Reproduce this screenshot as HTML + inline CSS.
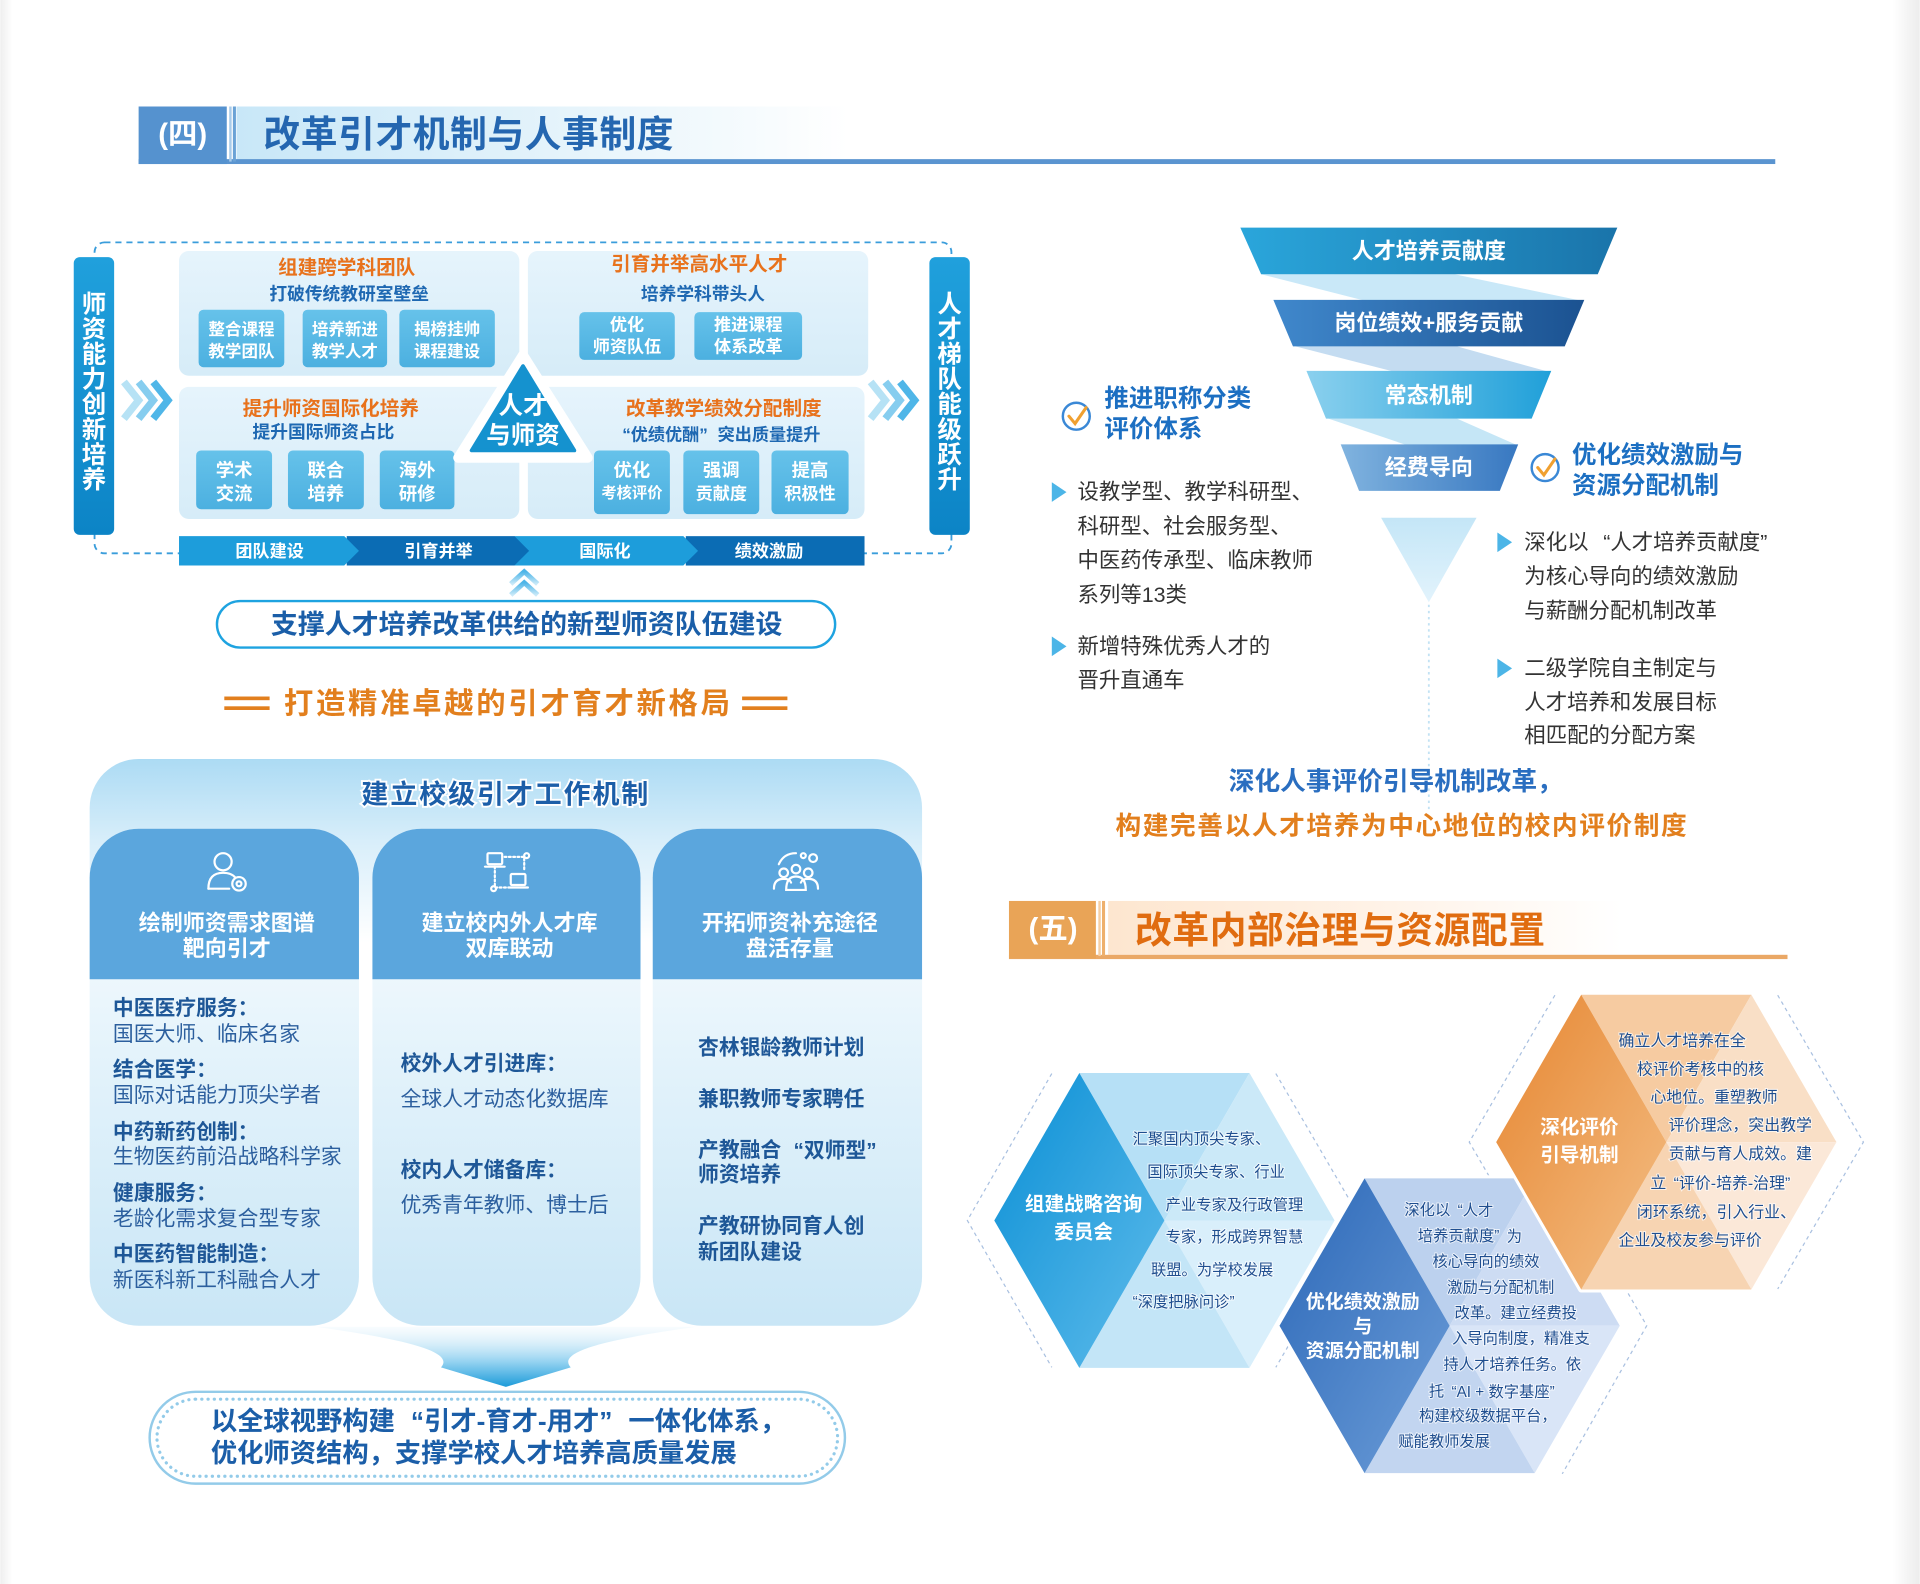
<!DOCTYPE html>
<html><head><meta charset="utf-8">
<style>html,body{margin:0;padding:0;background:#fff;}svg{display:block;}</style>
</head><body>
<svg width="1920" height="1584" viewBox="0 0 1568 1294" xmlns="http://www.w3.org/2000/svg" font-family="'Liberation Sans','Noto Sans CJK SC',sans-serif">
<defs>
<linearGradient id="gH4" x1="0" x2="1" y1="0" y2="0"><stop offset="0" stop-color="#c8e7f8"/><stop offset="0.55" stop-color="#e6f4fb"/><stop offset="1" stop-color="#ffffff"/></linearGradient>
<linearGradient id="gH5" x1="0" x2="1" y1="0" y2="0"><stop offset="0" stop-color="#fde6cf"/><stop offset="0.55" stop-color="#fff3e8"/><stop offset="1" stop-color="#ffffff"/></linearGradient>
<linearGradient id="gBar" x1="0" x2="0" y1="0" y2="1"><stop offset="0" stop-color="#20a0dc"/><stop offset="1" stop-color="#0c84c6"/></linearGradient>
<linearGradient id="gPanel" x1="0" x2="0" y1="0" y2="1"><stop offset="0" stop-color="#e6f4fc"/><stop offset="1" stop-color="#d6ecf8"/></linearGradient>
<linearGradient id="gBox" x1="0" x2="0" y1="0" y2="1"><stop offset="0" stop-color="#66c2ea"/><stop offset="1" stop-color="#4cb0e0"/></linearGradient>
<linearGradient id="gTop" x1="0" x2="0" y1="0" y2="1"><stop offset="0" stop-color="#acdbf4"/><stop offset="0.45" stop-color="#d8eefa"/><stop offset="1" stop-color="#ffffff"/></linearGradient>
<linearGradient id="gBody" x1="0" x2="0" y1="0" y2="1"><stop offset="0" stop-color="#ffffff"/><stop offset="0.45" stop-color="#e4f3fb"/><stop offset="1" stop-color="#c9e6f6"/></linearGradient>
<linearGradient id="gArrow" x1="0" x2="0" y1="0" y2="1"><stop offset="0" stop-color="#e8f5fc" stop-opacity="0.3"/><stop offset="0.6" stop-color="#8fd0f0"/><stop offset="1" stop-color="#1d9bd9"/></linearGradient>
<linearGradient id="gF1" x1="0" x2="1" y1="0" y2="0"><stop offset="0" stop-color="#2aa6db"/><stop offset="1" stop-color="#1a74aa"/></linearGradient>
<linearGradient id="gF2" x1="0" x2="1" y1="0" y2="0"><stop offset="0" stop-color="#4088cc"/><stop offset="1" stop-color="#1b5291"/></linearGradient>
<linearGradient id="gF3" x1="0" x2="1" y1="0" y2="0"><stop offset="0" stop-color="#8ad0ee"/><stop offset="1" stop-color="#20a0d9"/></linearGradient>
<linearGradient id="gF4" x1="0" x2="1" y1="0" y2="0"><stop offset="0" stop-color="#80b3df"/><stop offset="1" stop-color="#3878c1"/></linearGradient>
<linearGradient id="gTri" x1="0" x2="0" y1="0" y2="1"><stop offset="0" stop-color="#c4e6f7"/><stop offset="1" stop-color="#e2f3fc"/></linearGradient>
<linearGradient id="gK1" x1="0" x2="1" y1="0" y2="1"><stop offset="0" stop-color="#0a8fd5"/><stop offset="1" stop-color="#5fbceb"/></linearGradient>
<linearGradient id="gK2" x1="0" x2="1" y1="0" y2="1"><stop offset="0" stop-color="#2c68b8"/><stop offset="1" stop-color="#6c9dd8"/></linearGradient>
<linearGradient id="gK3" x1="0" x2="1" y1="0" y2="1"><stop offset="0" stop-color="#e68631"/><stop offset="1" stop-color="#f4bf86"/></linearGradient>
<linearGradient id="gEdgeR" x1="0" x2="1" y1="0" y2="0"><stop offset="0" stop-color="#ffffff"/><stop offset="1" stop-color="#ececec"/></linearGradient>
<linearGradient id="gEdgeL" x1="0" x2="1" y1="0" y2="0"><stop offset="0" stop-color="#efefef"/><stop offset="1" stop-color="#ffffff"/></linearGradient>
<linearGradient id="gUp" x1="0" x2="0" y1="0" y2="1"><stop offset="0" stop-color="#4db5e8"/><stop offset="1" stop-color="#c9e9f8"/></linearGradient>
</defs>

<!-- background -->
<rect x="0" y="0" width="1568" height="1294" fill="#ffffff"/>
<rect x="0" y="0" width="10" height="1294" fill="url(#gEdgeL)"/>
<rect x="1546" y="0" width="22" height="1294" fill="url(#gEdgeR)"/>

<!-- ===== Header 四 ===== -->
<rect x="193" y="87" width="500" height="44" fill="url(#gH4)"/>
<rect x="113" y="130" width="1337" height="4" fill="#5a94d0"/>
<rect x="113" y="87" width="72" height="47" fill="#5592cf"/>
<rect x="187" y="87" width="2" height="45" fill="#a7cbea"/>
<rect x="190" y="87" width="2.5" height="45" fill="#6aa2d6"/>
<text x="149" y="110" dominant-baseline="central" text-anchor="middle" font-size="24" font-weight="700" fill="#fff">(四)</text>
<text x="215" y="110" dominant-baseline="central" font-size="30" font-weight="700" fill="#2466b0" letter-spacing="0.5">改革引才机制与人事制度</text>

<!-- ===== Diagram 1 ===== -->
<rect x="77" y="198" width="700" height="254" rx="8" fill="none" stroke="#3a9ddb" stroke-width="1.5" stroke-dasharray="5 4"/>
<rect x="146" y="205" width="278" height="102" rx="8" fill="url(#gPanel)"/>
<rect x="431" y="205" width="278" height="102" rx="8" fill="url(#gPanel)"/>
<rect x="146" y="316" width="278" height="108" rx="8" fill="url(#gPanel)"/>
<rect x="431" y="316" width="275" height="108" rx="8" fill="url(#gPanel)"/>

<rect x="60" y="210" width="33" height="227" rx="5" fill="url(#gBar)"/>
<rect x="759" y="210" width="33" height="227" rx="5" fill="url(#gBar)"/>
<g font-size="20" font-weight="700" fill="#fff" text-anchor="middle" dominant-baseline="central">
<text x="76.5" y="249">师</text><text x="76.5" y="269.5">资</text><text x="76.5" y="290">能</text><text x="76.5" y="310.5">力</text><text x="76.5" y="331">创</text><text x="76.5" y="351.5">新</text><text x="76.5" y="372">培</text><text x="76.5" y="392.5">养</text>
<text x="775.5" y="249">人</text><text x="775.5" y="269.5">才</text><text x="775.5" y="290">梯</text><text x="775.5" y="310.5">队</text><text x="775.5" y="331">能</text><text x="775.5" y="351.5">级</text><text x="775.5" y="372">跃</text><text x="775.5" y="392.5">升</text>
</g>

<!-- side chevrons -->
<g fill="none" stroke-width="6" stroke-linejoin="miter">
<polyline points="101,312 113,327 101,342" stroke="#b6e2f5"/>
<polyline points="113,312 125,327 113,342" stroke="#86cdef"/>
<polyline points="125,312 137,327 125,342" stroke="#4fb6e8"/>
<polyline points="711,312 723,327 711,342" stroke="#b6e2f5"/>
<polyline points="723,312 735,327 723,342" stroke="#86cdef"/>
<polyline points="735,312 747,327 735,342" stroke="#4fb6e8"/>
</g>

<!-- panel texts -->
<g font-weight="700" text-anchor="middle" dominant-baseline="central">
<text x="283" y="219" font-size="16" fill="#e8721c">组建跨学科团队</text>
<text x="285" y="240" font-size="14.5" fill="#1e68b2">打破传统教研室壁垒</text>
<text x="571" y="216" font-size="16" fill="#e8721c">引育并举高水平人才</text>
<text x="574" y="240" font-size="14.5" fill="#1e68b2">培养学科带头人</text>
<text x="270" y="334" font-size="16" fill="#e8721c">提升师资国际化培养</text>
<text x="264" y="353" font-size="14.5" fill="#1e68b2">提升国际师资占比</text>
<text x="591" y="334" font-size="16" fill="#e8721c">改革教学绩效分配制度</text>
<text x="589" y="355" font-size="14" fill="#1e68b2">“优绩优酬”<tspan dx="8">突出质量提升</tspan></text>
</g>

<!-- small boxes -->
<g fill="url(#gBox)">
<rect x="162" y="253" width="70" height="47" rx="4"/>
<rect x="247" y="253" width="69" height="47" rx="4"/>
<rect x="326" y="253" width="78" height="47" rx="4"/>
<rect x="473" y="255" width="78" height="39" rx="4"/>
<rect x="567" y="255" width="88" height="39" rx="4"/>
<rect x="160" y="368" width="62" height="48" rx="4"/>
<rect x="235" y="368" width="62" height="48" rx="4"/>
<rect x="310" y="368" width="61" height="48" rx="4"/>
<rect x="485" y="368" width="62" height="52" rx="4"/>
<rect x="558" y="368" width="62" height="52" rx="4"/>
<rect x="630" y="368" width="63" height="52" rx="4"/>
</g>
<g font-weight="700" fill="#fff" text-anchor="middle" dominant-baseline="central">
<text x="197" y="269" font-size="13.5">整合课程</text><text x="197" y="287" font-size="13.5">教学团队</text>
<text x="281.5" y="269" font-size="13.5">培养新进</text><text x="281.5" y="287" font-size="13.5">教学人才</text>
<text x="365" y="269" font-size="13.5">揭榜挂帅</text><text x="365" y="287" font-size="13.5">课程建设</text>
<text x="512" y="265" font-size="14">优化</text><text x="512" y="283" font-size="14">师资队伍</text>
<text x="611" y="265" font-size="14">推进课程</text><text x="611" y="283" font-size="14">体系改革</text>
<text x="191" y="384" font-size="15">学术</text><text x="191" y="403" font-size="15">交流</text>
<text x="266" y="384" font-size="15">联合</text><text x="266" y="403" font-size="15">培养</text>
<text x="340.5" y="384" font-size="15">海外</text><text x="340.5" y="403" font-size="15">研修</text>
<text x="516" y="384" font-size="15">优化</text><text x="516" y="403" font-size="12.5">考核评价</text>
<text x="589" y="384" font-size="15">强调</text><text x="589" y="403" font-size="14">贡献度</text>
<text x="661.5" y="384" font-size="15">提高</text><text x="661.5" y="403" font-size="14">积极性</text>
</g>

<!-- center triangle -->
<polygon points="427,290 374,374 480,374" fill="#ffffff" stroke="#ffffff" stroke-width="8" stroke-linejoin="round"/>
<polygon points="427,299 385,368 469,368" fill="#1592cf" stroke="#1592cf" stroke-width="3" stroke-linejoin="round"/>
<g font-weight="700" fill="#fff" text-anchor="middle" dominant-baseline="central" font-size="20">
<text x="427" y="332">人才</text><text x="427" y="356">与师资</text>
</g>

<!-- bottom bar -->
<rect x="560" y="438" width="146" height="24" fill="#0b6cb4"/>
<polygon points="420,438 558,438 570,450 558,462 420,462" fill="#1d9ddb"/>
<polygon points="283,438 420,438 432,450 420,462 283,462" fill="#0b6cb4"/>
<polygon points="146,438 281,438 293,450 281,462 146,462" fill="#1d9ddb"/>
<g font-weight="700" fill="#fff" text-anchor="middle" dominant-baseline="central" font-size="14">
<text x="220" y="450">团队建设</text><text x="358" y="450">引育并举</text><text x="494" y="450">国际化</text><text x="628" y="450">绩效激励</text>
</g>
<g fill="none" stroke="url(#gUp)" stroke-width="4">
<polyline points="417,477 428,467 439,477"/>
<polyline points="417,486 428,476 439,486"/>
</g>

<!-- capsule -->
<rect x="177" y="491" width="505" height="38" rx="19" fill="#fff" stroke="#1ea3e0" stroke-width="2"/>
<text x="430" y="510" text-anchor="middle" dominant-baseline="central" font-size="22" font-weight="700" fill="#1a5ea8">支撑人才培养改革供给的新型师资队伍建设</text>

<!-- orange subtitle -->
<rect x="183" y="569" width="37" height="3" fill="#e27f1d"/><rect x="183" y="577" width="37" height="3" fill="#e27f1d"/>
<rect x="606" y="569" width="37" height="3" fill="#e27f1d"/><rect x="606" y="577" width="37" height="3" fill="#e27f1d"/>
<text x="415" y="575" text-anchor="middle" dominant-baseline="central" font-size="24" font-weight="700" letter-spacing="2.2" fill="#e27f1d">打造精准卓越的引才育才新格局</text>

<!-- ===== Big card ===== -->
<rect x="73" y="620" width="680" height="150" rx="40" fill="url(#gTop)"/>
<text x="413" y="649" text-anchor="middle" dominant-baseline="central" font-size="22" font-weight="700" letter-spacing="1.6" fill="#1c5ea8" stroke="#ffffff" stroke-width="3" paint-order="stroke">建立校级引才工作机制</text>

<rect x="73" y="677" width="220" height="406" rx="40" fill="url(#gBody)"/>
<rect x="304" y="677" width="219" height="406" rx="40" fill="url(#gBody)"/>
<rect x="533" y="677" width="220" height="406" rx="40" fill="url(#gBody)"/>
<path d="M73,800 V717 A40,40 0 0 1 113,677 H253 A40,40 0 0 1 293,717 V800 Z" fill="#5ba6dd"/>
<path d="M304,800 V717 A40,40 0 0 1 344,677 H483 A40,40 0 0 1 523,717 V800 Z" fill="#5ba6dd"/>
<path d="M533,800 V717 A40,40 0 0 1 573,677 H713 A40,40 0 0 1 753,717 V800 Z" fill="#5ba6dd"/>

<!-- icons -->
<g fill="none" stroke="#ffffff" stroke-width="1.8" stroke-linecap="round">
<circle cx="182" cy="704" r="7"/>
<path d="M170,726 Q170,713 182,713 Q189,713 192,717"/>
<path d="M170,726 H187"/>
<circle cx="195" cy="722" r="5.5"/><circle cx="195" cy="722" r="2"/>
<rect x="398" y="697" width="12" height="9" rx="1"/><path d="M396,708 H412"/>
<rect x="417" y="714" width="12" height="9" rx="1"/><path d="M415,725 H431"/>
<path d="M404,708 V725 H413" stroke-dasharray="1.5 2"/>
<path d="M412,700 H428 V712" stroke-dasharray="1.5 2"/>
<circle cx="430" cy="699" r="2"/><circle cx="403" cy="726" r="2"/>
<circle cx="640" cy="713" r="3.5"/><circle cx="650" cy="710" r="3.5"/><circle cx="660" cy="713" r="3.5"/>
<path d="M632,726 Q632,718 640,718 Q645,718 646,721"/>
<path d="M642,727 Q642,716 650,716 Q658,716 658,727 Z"/>
<path d="M654,721 Q655,718 660,718 Q668,718 668,726"/>
<circle cx="664" cy="701" r="3.2"/><circle cx="656" cy="699" r="2"/>
<path d="M636,706 Q640,697 650,697"/>
</g>

<g font-weight="700" fill="#fff" text-anchor="middle" dominant-baseline="central" font-size="18">
<text x="185" y="754">绘制师资需求图谱</text><text x="185" y="775">靶向引才</text>
<text x="416" y="754">建立校内外人才库</text><text x="416" y="775">双库联动</text>
<text x="645" y="754">开拓师资补充途径</text><text x="645" y="775">盘活存量</text>
</g>

<g dominant-baseline="central" font-size="17">
<text x="92" y="824" font-weight="700" fill="#1e5797">中医医疗服务：</text>
<text x="92" y="845" fill="#2c5f9e">国医大师、临床名家</text>
<text x="92" y="874" font-weight="700" fill="#1e5797">结合医学：</text>
<text x="92" y="895" fill="#2c5f9e">国际对话能力顶尖学者</text>
<text x="92" y="925" font-weight="700" fill="#1e5797">中药新药创制：</text>
<text x="92" y="945" fill="#2c5f9e">生物医药前沿战略科学家</text>
<text x="92" y="975" font-weight="700" fill="#1e5797">健康服务：</text>
<text x="92" y="996" fill="#2c5f9e">老龄化需求复合型专家</text>
<text x="92" y="1025" font-weight="700" fill="#1e5797">中医药智能制造：</text>
<text x="92" y="1046" fill="#2c5f9e">新医科新工科融合人才</text>

<text x="327" y="869" font-weight="700" fill="#1e5797">校外人才引进库：</text>
<text x="327" y="898" fill="#2c5f9e">全球人才动态化数据库</text>
<text x="327" y="956" font-weight="700" fill="#1e5797">校内人才储备库：</text>
<text x="327" y="985" fill="#2c5f9e">优秀青年教师、博士后</text>

<g font-weight="700" fill="#1e5797">
<text x="570" y="856">杏林银龄教师计划</text>
<text x="570" y="898">兼职教师专家聘任</text>
<text x="570" y="940">产教融合<tspan dx="10">“双师型”</tspan></text>
<text x="570" y="960">师资培养</text>
<text x="570" y="1002">产教研协同育人创</text>
<text x="570" y="1023">新团队建设</text>
</g>
</g>

<!-- down arrow -->
<path d="M258,1084 C330,1094 372,1104 360,1117 L413,1133 L466,1117 C454,1104 496,1094 568,1084 Z" fill="url(#gArrow)"/>

<!-- bottom capsule -->
<rect x="122" y="1137" width="568" height="75" rx="37.5" fill="#ffffff" stroke="#93cbe9" stroke-width="2"/>
<rect x="128" y="1143" width="556" height="63" rx="31.5" fill="none" stroke="#93cbe9" stroke-width="2.6" stroke-dasharray="0.1 5" stroke-linecap="round"/>
<g font-weight="700" fill="#1b5ea8" dominant-baseline="central" font-size="21.5">
<text x="172" y="1161">以全球视野构建<tspan dx="13">“引才-育才-用才”</tspan><tspan dx="13">一体化体系，</tspan></text>
<text x="172" y="1187">优化师资结构，支撑学校人才培养高质量发展</text>
</g>

<!-- ===== Funnel ===== -->
<polygon points="1030,224 1188,224 1293,246 1116,246" fill="#c3e5f7" opacity="0.9"/>
<polygon points="1058,283 1190,283 1266,304 1140,304" fill="#bed8ef" opacity="0.9"/>
<polygon points="1085,342 1190,342 1240,364 1150,364" fill="#bfe3f5" opacity="0.9"/>
<polygon points="1013,186 1321,186 1305,224 1030,224" fill="url(#gF1)"/>
<polygon points="1040,245 1294,245 1278,283 1056,283" fill="url(#gF2)"/>
<polygon points="1067,303 1267,303 1251,342 1083,342" fill="url(#gF3)"/>
<polygon points="1095,363 1240,363 1225,401 1110,401" fill="url(#gF4)"/>
<g font-weight="700" fill="#fff" text-anchor="middle" dominant-baseline="central" font-size="18">
<text x="1167" y="205">人才培养贡献度</text>
<text x="1167" y="264">岗位绩效+服务贡献</text>
<text x="1167" y="323">常态机制</text>
<text x="1167" y="382">经费导向</text>
</g>
<polygon points="1128,423 1206,423 1167,492" fill="url(#gTri)"/>
<line x1="1167" y1="494" x2="1167" y2="662" stroke="#c2e2f4" stroke-width="1.5" stroke-dasharray="2 3"/>

<!-- checks -->
<circle cx="879" cy="340" r="11" fill="#fff" stroke="#3a88d6" stroke-width="2"/>
<path d="M873,340 L878,346 L887,333" fill="none" stroke="#f0a030" stroke-width="2.5" stroke-linecap="round"/>
<circle cx="1262" cy="382" r="11" fill="#fff" stroke="#3a88d6" stroke-width="2"/>
<path d="M1256,382 L1261,388 L1270,375" fill="none" stroke="#f0a030" stroke-width="2.5" stroke-linecap="round"/>
<g font-weight="700" fill="#1c6fc2" dominant-baseline="central" font-size="20">
<text x="902" y="326">推进职称分类</text><text x="902" y="351">评价体系</text>
<text x="1284" y="372">优化绩效激励与</text><text x="1284" y="397">资源分配机制</text>
</g>

<g fill="#4cb5e7">
<polygon points="859,394 871,402 859,410"/>
<polygon points="859,520 871,528 859,536"/>
<polygon points="1223,435 1235,443 1223,451"/>
<polygon points="1223,538 1235,546 1223,554"/>
</g>
<g fill="#333333" dominant-baseline="central" font-size="17.5">
<text x="880" y="402">设教学型、教学科研型、</text>
<text x="880" y="430">科研型、社会服务型、</text>
<text x="880" y="458">中医药传承型、临床教师</text>
<text x="880" y="486">系列等13类</text>
<text x="880" y="528">新增特殊优秀人才的</text>
<text x="880" y="556">晋升直通车</text>
<text x="1245" y="443">深化以<tspan dx="12">“人才培养贡献度”</tspan></text>
<text x="1245" y="471">为核心导向的绩效激励</text>
<text x="1245" y="499">与薪酬分配机制改革</text>
<text x="1245" y="546">二级学院自主制定与</text>
<text x="1245" y="574">人才培养和发展目标</text>
<text x="1245" y="601">相匹配的分配方案</text>
</g>

<text x="1140" y="639" text-anchor="middle" dominant-baseline="central" font-size="21" font-weight="700" fill="#2a6ec0">深化人事评价引导机制改革，</text>
<text x="1145" y="675" text-anchor="middle" dominant-baseline="central" font-size="21" font-weight="700" letter-spacing="1.3" fill="#e27f1d">构建完善以人才培养为中心地位的校内评价制度</text>

<!-- ===== Header 五 ===== -->
<rect x="905" y="736" width="420" height="44" fill="url(#gH5)"/>
<rect x="824" y="780" width="636" height="3.5" fill="#eaa866"/>
<rect x="824" y="736" width="71" height="47" fill="#e9a457"/>
<rect x="897" y="736" width="2" height="45" fill="#f5cfa4"/>
<rect x="900" y="736" width="2.5" height="45" fill="#eeb06c"/>
<text x="860" y="759" dominant-baseline="central" text-anchor="middle" font-size="24" font-weight="700" fill="#fff">(五)</text>
<text x="927" y="760" dominant-baseline="central" font-size="30" font-weight="700" fill="#e06c10" letter-spacing="0.5">改革内部治理与资源配置</text>

<!-- ===== Hexagons ===== -->
<g fill="none" stroke="#a9c0e0" stroke-width="1" stroke-dasharray="3 3">
<polyline points="859,877 790,997 859,1117"/>
<polyline points="1042,877 1112,997 1042,1117"/>
<polyline points="1276,963 1345,1083 1276,1204"/>
<polyline points="1270,813 1200,933 1270,1053"/>
<polyline points="1452,813 1522,933 1452,1053"/>
</g>

<!-- hex1 -->
<g>
<polygon points="951,997 1020.5,876.6 881.5,876.6" fill="#b6e0f6"/>
<polygon points="951,997 1090,997 1020.5,876.6" fill="#cbe9f8"/>
<polygon points="951,997 1020.5,1117.4 1090,997" fill="#d9effb"/>
<polygon points="951,997 881.5,1117.4 1020.5,1117.4" fill="#c3e5f7"/>
<polygon points="881.5,876.6 812,997 881.5,1117.4 951,997" fill="url(#gK1)"/>
</g>
<!-- hex2 -->
<g>
<polygon points="1045,1083 1114.5,962.6 1253.5,962.6 1323,1083 1253.5,1203.4 1114.5,1203.4" fill="#fff" stroke="#fff" stroke-width="5" stroke-linejoin="round"/>
<polygon points="1184,1083 1253.5,962.6 1114.5,962.6" fill="#bcd1ee"/>
<polygon points="1184,1083 1323,1083 1253.5,962.6" fill="#cddcf3"/>
<polygon points="1184,1083 1253.5,1203.4 1323,1083" fill="#d9e5f7"/>
<polygon points="1184,1083 1114.5,1203.4 1253.5,1203.4" fill="#c2d5f0"/>
<polygon points="1114.5,962.6 1045,1083 1114.5,1203.4 1184,1083" fill="url(#gK2)"/>
</g>
<!-- hex3 -->
<g>
<polygon points="1222,933 1291.5,812.6 1430.5,812.6 1500,933 1430.5,1053.4 1291.5,1053.4" fill="#fff" stroke="#fff" stroke-width="5" stroke-linejoin="round"/>
<polygon points="1361,933 1430.5,812.6 1291.5,812.6" fill="#f6cba1"/>
<polygon points="1361,933 1500,933 1430.5,812.6" fill="#f9dfc6"/>
<polygon points="1361,933 1430.5,1053.4 1500,933" fill="#fbe8d8"/>
<polygon points="1361,933 1291.5,1053.4 1430.5,1053.4" fill="#f7d4b2"/>
<polygon points="1291.5,812.6 1222,933 1291.5,1053.4 1361,933" fill="url(#gK3)"/>
</g>

<g font-weight="700" fill="#fff" text-anchor="middle" dominant-baseline="central" font-size="16">
<text x="885" y="984">组建战略咨询</text><text x="885" y="1007">委员会</text>
<text x="1290" y="921">深化评价</text><text x="1290" y="944">引导机制</text>
</g>
<g font-weight="700" fill="#fff" text-anchor="middle" dominant-baseline="central" font-size="15.5">
<text x="1113" y="1064">优化绩效激励</text><text x="1113" y="1084">与</text><text x="1113" y="1104">资源分配机制</text>
</g>

<g fill="#1f4e8f" dominant-baseline="central" font-size="12.5" stroke="#ffffff" stroke-width="1.6" stroke-opacity="0.7" paint-order="stroke">
<text x="925" y="931">汇聚国内顶尖专家、</text>
<text x="937" y="958">国际顶尖专家、行业</text>
<text x="952" y="985">产业专家及行政管理</text>
<text x="952" y="1011">专家，形成跨界智慧</text>
<text x="940" y="1038">联盟。为学校发展</text>
<text x="925" y="1064">“深度把脉问诊”</text>

<text x="1147" y="989">深化以<tspan dx="6">“人才</tspan></text>
<text x="1158" y="1010">培养贡献度”<tspan dx="6">为</tspan></text>
<text x="1170" y="1031">核心导向的绩效</text>
<text x="1182" y="1052">激励与分配机制</text>
<text x="1188" y="1073">改革。建立经费投</text>
<text x="1186" y="1094">入导向制度，精准支</text>
<text x="1179" y="1115">持人才培养任务。依</text>
<text x="1167" y="1137">托<tspan dx="6">“AI + 数字基座”</tspan></text>
<text x="1159" y="1157">构建校级数据平台，</text>
<text x="1142" y="1178">赋能教师发展</text>

<text x="1322" y="851" font-size="13">确立人才培养在全</text>
<text x="1337" y="874" font-size="13">校评价考核中的核</text>
<text x="1348" y="897" font-size="13">心地位。重塑教师</text>
<text x="1363" y="920" font-size="13">评价理念，突出教学</text>
<text x="1363" y="943" font-size="13">贡献与育人成效。建</text>
<text x="1348" y="967" font-size="13">立<tspan dx="6">“评价-培养-治理”</tspan></text>
<text x="1337" y="991" font-size="13">闭环系统，引入行业、</text>
<text x="1322" y="1014" font-size="13">企业及校友参与评价</text>
</g>
</svg>
</body></html>
